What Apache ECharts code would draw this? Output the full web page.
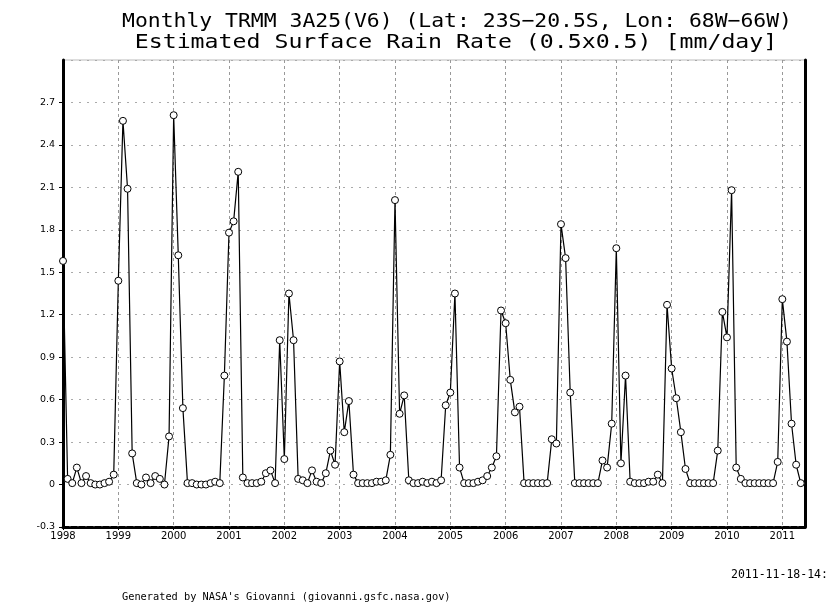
<!DOCTYPE html>
<html>
<head>
<meta charset="utf-8">
<script src="https://cdn.jsdelivr.net/npm/echarts@6/dist/echarts.min.js"></script>
<style>
  html, body { margin: 0; padding: 0; background: #fff; }
  #main { width: 830px; height: 603px; }
</style>
</head>
<body>
<div id="main"></div>
<script>
// monthly rain rate [mm/day], Jan..Dec per year
var startYear = 1998;
var rain1998 = [1.58, 0.04, 0.01, 0.12, 0.01, 0.06, 0.01, 0.00, 0.00, 0.01, 0.02, 0.07];
var rain1999 = [1.44, 2.57, 2.09, 0.22, 0.01, 0.00, 0.05, 0.01, 0.06, 0.04, 0.00, 0.34];
var rain2000 = [2.61, 1.62, 0.54, 0.01, 0.01, 0.00, 0.00, 0.00, 0.01, 0.02, 0.01, 0.77];
var rain2001 = [1.78, 1.86, 2.21, 0.05, 0.01, 0.01, 0.01, 0.02, 0.08, 0.10, 0.01, 1.02];
var rain2002 = [0.18, 1.35, 1.02, 0.04, 0.03, 0.01, 0.10, 0.02, 0.01, 0.08, 0.24, 0.14];
var rain2003 = [0.87, 0.37, 0.59, 0.07, 0.01, 0.01, 0.01, 0.01, 0.02, 0.02, 0.03, 0.21];
var rain2004 = [2.01, 0.50, 0.63, 0.03, 0.01, 0.01, 0.02, 0.01, 0.02, 0.01, 0.03, 0.56];
var rain2005 = [0.65, 1.35, 0.12, 0.01, 0.01, 0.01, 0.02, 0.03, 0.06, 0.12, 0.20, 1.23];
var rain2006 = [1.14, 0.74, 0.51, 0.55, 0.01, 0.01, 0.01, 0.01, 0.01, 0.01, 0.32, 0.29];
var rain2007 = [1.84, 1.60, 0.65, 0.01, 0.01, 0.01, 0.01, 0.01, 0.01, 0.17, 0.12, 0.43];
var rain2008 = [1.67, 0.15, 0.77, 0.02, 0.01, 0.01, 0.01, 0.02, 0.02, 0.07, 0.01, 1.27];
var rain2009 = [0.82, 0.61, 0.37, 0.11, 0.01, 0.01, 0.01, 0.01, 0.01, 0.01, 0.24, 1.22];
var rain2010 = [1.04, 2.08, 0.12, 0.04, 0.01, 0.01, 0.01, 0.01, 0.01, 0.01, 0.01, 0.16];
var rain2011 = [1.31, 1.01, 0.43, 0.14, 0.01];

var years = [rain1998, rain1999, rain2000, rain2001, rain2002, rain2003, rain2004,
             rain2005, rain2006, rain2007, rain2008, rain2009, rain2010, rain2011];

// build [decimal year, value] points
var points = [];
years.forEach(function (arr, yi) {
    arr.forEach(function (v, m) {
        points.push([startYear + yi + m / 12, v]);
    });
});

var myChart = echarts.init(document.getElementById('main'));

var font = 'DejaVu Sans';
var mono = 'DejaVu Sans Mono';

var option = {
    animation: false,
    backgroundColor: '#fff',
    graphic: [
        {
            type: 'text', x: 457, y: 22, scaleX: 1.07,
            style: {
                text: 'Monthly TRMM 3A25(V6) (Lat: 23S\u221220.5S, Lon: 68W\u221266W)',
                textAlign: 'center', textVerticalAlign: 'middle',
                fontFamily: mono, fontSize: 20, fill: '#000'
            }
        },
        {
            type: 'text', x: 456, y: 43, scaleX: 1.16,
            style: {
                text: 'Estimated Surface Rain Rate (0.5x0.5) [mm/day]',
                textAlign: 'center', textVerticalAlign: 'middle',
                fontFamily: mono, fontSize: 20, fill: '#000'
            }
        },
        {
            type: 'text', x: 731, y: 575,
            style: { text: '2011-11-18-14:', textVerticalAlign: 'middle', fontFamily: mono, fontSize: 11.5, fill: '#000' }
        },
        {
            type: 'text', x: 122, y: 597,
            style: { text: "Generated by NASA's Giovanni (giovanni.gsfc.nasa.gov)", textVerticalAlign: 'middle', fontFamily: mono, fontSize: 10.3, fill: '#000' }
        }
    ],
    grid: {
        left: 63, right: 25, top: 60, bottom: 76,
        show: true, borderColor: '#bbb', borderWidth: 1
    },
    xAxis: [{
        type: 'value',
        min: 1998, max: 2011.41, interval: 1,
        axisLine: { show: true, onZero: false, lineStyle: { color: '#000', width: 3, type: [6, 2] } },
        axisTick: { show: true, length: 3, lineStyle: { color: '#000' } },
        axisLabel: {
            color: '#000', fontFamily: font, fontSize: 10, margin: 4,
            showMaxLabel: false,
            formatter: function (v) { return String(Math.round(v)); }
        },
        splitLine: { show: true, lineStyle: { color: '#999', type: [3, 3], width: 1 } }
    }],
    yAxis: [{
        type: 'value',
        min: -0.3, max: 3.0, interval: 0.3,
        axisLine: { show: true, lineStyle: { color: '#000', width: 3 } },
        axisTick: { show: true, length: 4, lineStyle: { color: '#000' } },
        axisLabel: {
            color: '#000', fontFamily: font, fontSize: 9.5, margin: 8,
            showMaxLabel: false,
            formatter: function (v) { return Math.abs(v) < 1e-9 ? '0' : v.toFixed(1); }
        },
        splitLine: { show: true, lineStyle: { color: '#aaa', type: [2, 6], width: 1 } }
    }, {
        type: 'value',
        position: 'right',
        min: -0.3, max: 3.0, interval: 0.3,
        axisLine: { show: true, lineStyle: { color: '#000', width: 3 } },
        axisTick: { show: false },
        axisLabel: { show: false },
        splitLine: { show: false }
    }],
    series: [{
        type: 'line',
        data: points,
        symbol: 'circle',
        symbolSize: 7,
        showAllSymbol: true,
        itemStyle: { color: '#fff', borderColor: '#000', borderWidth: 1 },
        lineStyle: { color: '#000', width: 1.2 },
        clip: false,
        z: 5
    }]
};

myChart.setOption(option);
</script>
</body>
</html>
